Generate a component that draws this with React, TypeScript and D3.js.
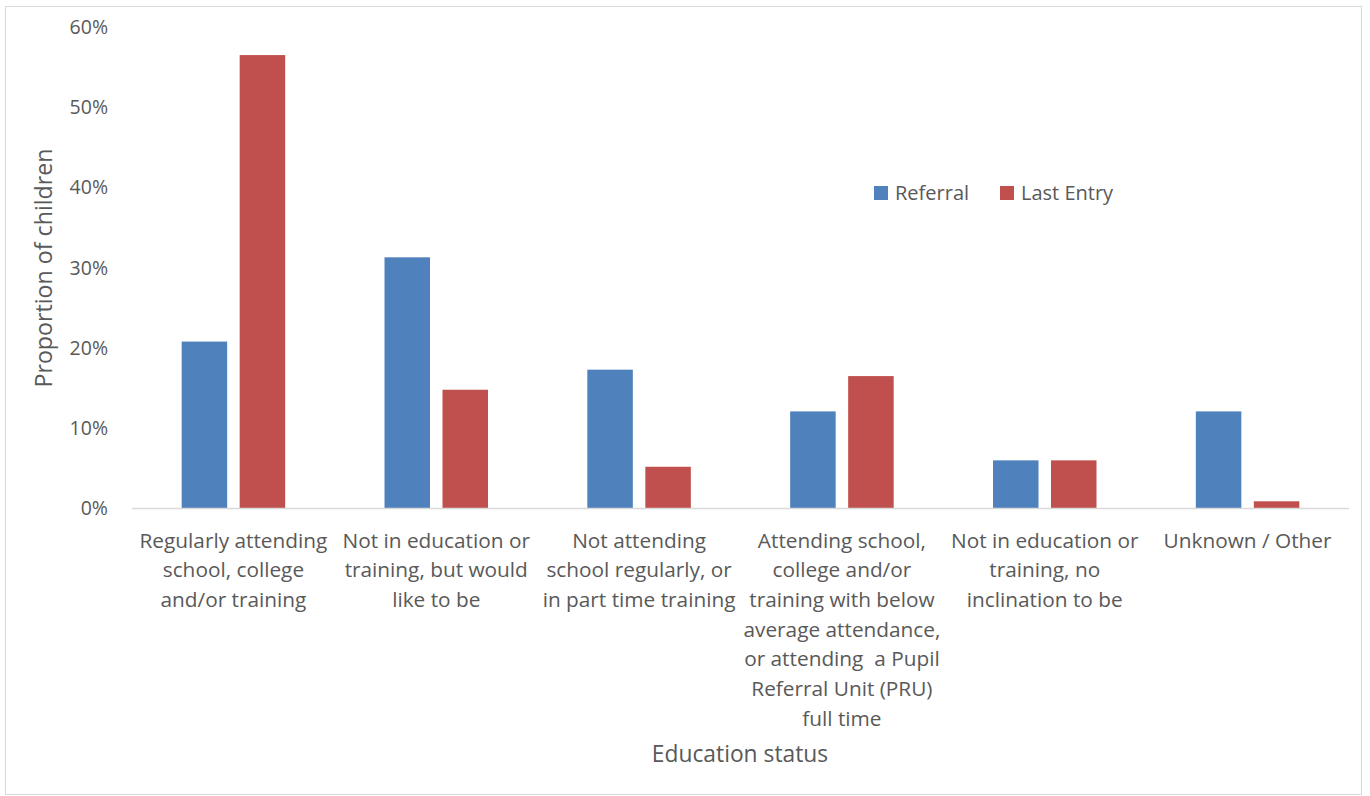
import React from "react";
import * as d3 from "d3";

const categories: string[][] = [
  ["Regularly attending", "school, college", "and/or training"],
  ["Not in education or", "training, but would", "like to be"],
  ["Not attending", "school regularly, or", "in part time training"],
  ["Attending school,", "college and/or", "training with below", "average attendance,", "or attending  a Pupil", "Referral Unit (PRU)", "full time"],
  ["Not in education or", "training, no", "inclination to be"],
  ["Unknown / Other"],
];
const seriesNames = ["Referral", "Last Entry"];
const referral = [0.208, 0.313, 0.173, 0.121, 0.06, 0.121];
const lastEntry = [0.565, 0.148, 0.052, 0.165, 0.06, 0.009];
const yTicks = [0, 0.1, 0.2, 0.3, 0.4, 0.5, 0.6];
const colors = ["#4F81BD", "#C0504D"];

const W = 1370;
const H = 796;
const left = 132;
const right = 1349;
const top = 27;
const bottom = 508.5;
const textColor = "#595959";
const font = "Open Sans, Noto Sans, sans-serif";

export default function App() {
  const x = d3
    .scaleBand<number>()
    .domain(d3.range(categories.length))
    .range([left, right]);
  const y = d3.scaleLinear().domain([0, 0.6]).range([bottom, top]);
  const barW = 45.5;
  const innerGap = 12.5;
  const series = [referral, lastEntry];
  const fmt = d3.format(".0%");

  return (
    <svg
      width={W}
      height={H}
      style={{ position: "absolute", left: 0, top: 0 }}
      fontFamily={font}
    >
      <rect x={0} y={0} width={W} height={H} fill="#fff" />
      <rect x={5.5} y={6.5} width={1356} height={788} fill="#fff" stroke="#D9D9D9" />

      {yTicks.map((t) => (
        <text
          key={t}
          x={108}
          y={y(t)}
          dy="0.35em"
          textAnchor="end"
          fontSize={19.5}
          fill={textColor}
        >
          {fmt(t)}
        </text>
      ))}

      {series.map((vals, si) =>
        vals.map((v, i) => {
          const cx = (x(i) as number) + x.bandwidth() / 2;
          const bx = si === 0 ? cx - innerGap / 2 - barW : cx + innerGap / 2;
          return (
            <rect
              key={`${si}-${i}`}
              x={bx}
              y={y(v)}
              width={barW}
              height={y(0) - y(v)}
              fill={colors[si]}
            />
          );
        })
      )}

      <line x1={left} x2={right} y1={bottom} y2={bottom} stroke="#D9D9D9" strokeWidth={1.5} />

      {categories.map((lines, i) => {
        const cx = (x(i) as number) + x.bandwidth() / 2;
        return (
          <text key={i} textAnchor="middle" fontSize={20.8} fill={textColor}>
            {lines.map((l, j) => (
              <tspan key={j} x={cx} y={547.5 + j * 29.7} style={{ whiteSpace: "pre" }}>
                {l}
              </tspan>
            ))}
          </text>
        );
      })}

      <text x={740} y={762} textAnchor="middle" fontSize={22.8} fill={textColor}>
        Education status
      </text>
      <text
        transform={`translate(52, 268) rotate(-90)`}
        textAnchor="middle"
        fontSize={23.2}
        fill={textColor}
      >
        Proportion of children
      </text>

      {seriesNames.map((n, i) => {
        const lx = i === 0 ? 874 : 1000;
        return (
          <g key={n}>
            <rect x={lx} y={186} width={14} height={14} fill={colors[i]} />
            <text x={lx + 21} y={193} dy="0.35em" fontSize={20} fill={textColor}>
              {n}
            </text>
          </g>
        );
      })}
    </svg>
  );
}
